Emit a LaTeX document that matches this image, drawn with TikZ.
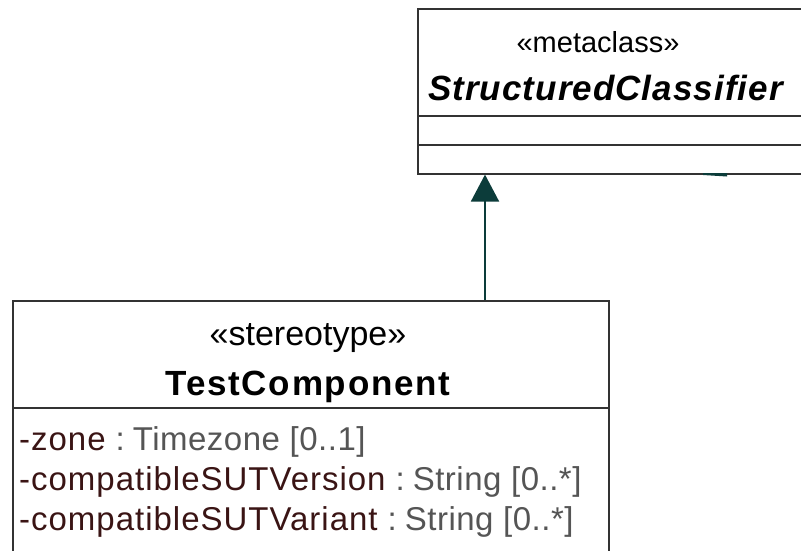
\documentclass[tikz,border=0pt]{standalone}
\usepackage{fontspec}
\setmainfont{Liberation Sans}
\usetikzlibrary{positioning,arrows.meta}

\definecolor{umlline}{HTML}{333333}
\definecolor{umlteal}{HTML}{0C3C3A}
\definecolor{attrname}{HTML}{3A1414}
\definecolor{attrtype}{HTML}{555555}

\tikzset{
  classbox/.style={draw=umlline, line width=1.6pt, anchor=north west, inner sep=0pt},
  stereo/.style={anchor=base, font=\fontsize{29}{34}\selectfont},
  classname/.style={anchor=base, font=\fontsize{35}{40}\selectfont\bfseries\addfontfeatures{LetterSpace=5}},
  attrline/.style={anchor=base west, inner sep=0pt, font=\fontsize{33}{40}\selectfont\addfontfeatures{LetterSpace=3}},
}

\newcommand{\umlattr}[2]{\textcolor{attrname}{#1}%
  \textcolor{attrtype}{\addfontfeatures{LetterSpace=1.5}\hspace{10pt}:\hspace{8pt}#2}}

\begin{document}
\begin{tikzpicture}[x=1pt,y=-1pt]
  \useasboundingbox (0,0) rectangle (801,550);

  % metaclass
  \node[classbox, minimum width=410pt, minimum height=165pt] (meta) at (417,8) {};
  \draw[umlline, line width=1.6pt] (417,116) -- (830,116);
  \draw[umlline, line width=1.6pt] (417,145) -- (830,145);
  \node[stereo] (metaster) at (598,52) {«metaclass»};
  \node[classname, anchor=base west, inner sep=0pt,
        font=\fontsize{35}{40}\selectfont\bfseries\itshape\addfontfeatures{LetterSpace=3}] (metaname) at (428,100) {StructuredClassifier};

  % stereotype
  \node[classbox, minimum width=596pt, minimum height=280pt] (comp) at (12,300) {};
  \draw[umlline, line width=1.6pt] (12,408) -- (608,408);
  \node[stereo, font=\fontsize{34}{40}\selectfont] (compster) at (308,345) {«stereotype»};
  \node[classname] (compname) at (308,395) {TestComponent};

  \node[attrline] (zone) at (19,450) {\umlattr{-zone}{Timezone [0..1]}};
  \node[attrline] (version) at (19,490) {\umlattr{-compatibleSUTVersion}{String [0..*]}};
  \node[attrline] (variant) at (19,530) {\umlattr{-compatibleSUTVariant}{String [0..*]}};

  % generalization
  \coordinate (genfrom) at (485,300);
  \draw[umlteal, line width=2pt, -{Triangle[width=28pt,length=27pt]}] (genfrom) -- (genfrom |- meta.south);

  % cut-off tip at the right
  \fill[umlteal] (703,173) -- (727,173) -- (727,176.5) -- (703,175) -- cycle;
\end{tikzpicture}
\end{document}
